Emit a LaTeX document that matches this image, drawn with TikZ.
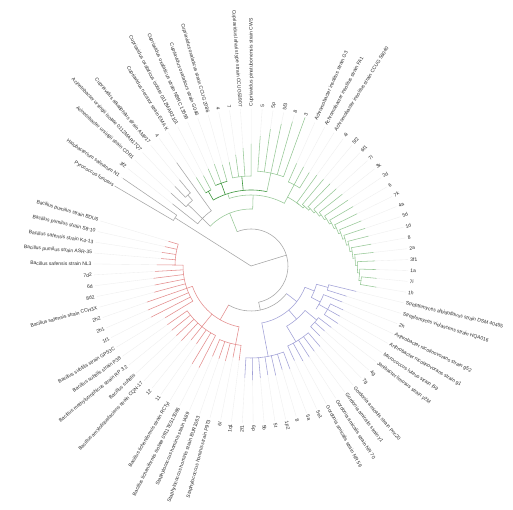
\documentclass[tikz,border=0pt]{standalone}
\usepackage{fontspec}
\setmainfont{Liberation Sans}
\definecolor{gncol}{RGB}{150,200,150}
\definecolor{dkgn}{RGB}{60,150,60}
\definecolor{rdcol}{RGB}{228,140,140}
\definecolor{blcol}{RGB}{160,160,215}
\definecolor{gycol}{RGB}{165,165,165}
\definecolor{leadcol}{RGB}{238,238,238}
\definecolor{txtcol}{RGB}{45,45,45}
\newcommand\rb[4]{\pgfmathsetmacro\tmpa{149.6-3.98*(#2)}\draw[#1] (\tmpa:#3pt) -- (\tmpa:#4pt);}
\newcommand\ar[4]{\pgfmathsetmacro\tmpa{149.6-3.98*(#2)}\pgfmathsetmacro\tmpb{149.6-3.98*(#3)}\draw[#1] (\tmpa:#4pt) arc[start angle=\tmpa, end angle=\tmpb, radius=#4pt];}
\newcommand\lf[5]{\pgfmathsetmacro\tmpa{149.6-3.98*(#2)}%
  \draw[lead] (\tmpa:#4pt) -- (\tmpa:157pt);
  \draw[#1] (\tmpa:#3pt) -- (\tmpa:#4pt);
  \pgfmathtruncatemacro\side{cos(\tmpa)>0}%
  \ifnum\side=1
    \node[lab,anchor=west,rotate=\tmpa] (L#2) at (\tmpa:159pt) {#5};
  \else
    \node[lab,anchor=east,rotate=\tmpa+180] (L#2) at (\tmpa:159pt) {#5};
  \fi}
\begin{document}
\begin{tikzpicture}[x=1pt,y=1pt,line cap=round,
  lab/.style={font=\fontsize{5}{6}\selectfont, text=txtcol, inner sep=0.3pt},
  lead/.style={draw=leadcol, line width=0.35pt},
  gy/.style={draw=gycol, line width=0.55pt},
  gn/.style={draw=gncol, line width=0.55pt},
  dg/.style={draw=dkgn, line width=0.6pt},
  rd/.style={draw=rdcol, line width=0.55pt},
  bl/.style={draw=blcol, line width=0.55pt}]
\useasboundingbox[fill=white] (0,0) rectangle (513,510);
\begin{scope}[shift={(251,244)}]
% outgroup
\rb{gy}{0.5}{0}{90} \ar{gy}{0}{1}{90}
\lf{gy}{0}{90}{158}{Pyrococcus furiosus}
\lf{gy}{1}{90}{155}{Halobacterium salinarum N1}
% N1
\rb{gy}{33.3}{0}{37} \ar{gy}{9.45}{57.2}{37}
% green
\rb{gn}{9.45}{37}{57} \ar{gn}{3.5}{15.4}{57}
\rb{gy}{3.5}{57}{68} \ar{gy}{2}{6}{68}
\lf{gy}{2}{68}{100}{3f2}
\rb{gy}{3.5}{68}{88} \ar{gy}{3}{4.5}{88}
\lf{gy}{3}{88}{108}{Acinetobacter ursingii strain CDR1}
\rb{gy}{4.5}{88}{95} \ar{gy}{4}{5}{95}
\lf{gy}{4}{95}{110}{Acinetobacter ursingii isolate 0112MAR17Q7}
\lf{gy}{5}{95}{112}{Cupriavidus alkaliphilus strain AMP17}
\lf{gy}{6}{68}{127}{4}
\rb{gn}{15.4}{57}{71} \ar{gn}{10.5}{22}{71}
\rb{gn}{10.5}{71}{76} \ar{dg}{7.5}{18}{76}
\rb{dg}{7.5}{76}{86} \ar{dg}{7}{8}{86}
\lf{gn}{7}{86}{104}{Cupriavidus necator strain EMA K}
\lf{gn}{8}{86}{102}{Cupriavidus oxalaticus isolate 0112MAR2101}
\rb{dg}{10}{76}{88} \ar{dg}{9}{11}{88}
\lf{gn}{9}{88}{106}{Cupriavidus oxalaticus strain NBRC 13593}
\lf{gn}{10}{88}{108}{Cupriavidus oxalaticus strain G046}
\lf{gn}{11}{88}{105}{Cupriavidus oxalaticus strain CCUG 2086}
\rb{dg}{13.5}{76}{90} \ar{gn}{12}{15}{90}
\lf{gn}{12}{90}{106}{4}
\lf{gn}{13}{90}{112}{7}
\lf{gn}{14}{90}{118}{Cupriavidus laharis type strain CCUG53907}
\lf{gn}{15}{90}{122}{Cupriavidus pinatubonensis strain CWS}
\rb{gn}{18}{76}{95} \ar{gn}{16}{20}{95}
\lf{gn}{16}{95}{130}{5}
\lf{gn}{17}{95}{138}{5p}
\lf{gn}{18}{95}{145}{5f3}
\lf{gn}{19}{95}{150}{8}
\lf{gn}{20}{95}{158}{3}
% right ladder
\rb{gn}{22}{71}{78} \ar{gn}{22}{24.5}{78}
\rb{gn}{22}{78}{92} \ar{gn}{21}{23}{92}
\lf{gn}{21}{92}{112}{Achromobacter insolitus strain G3}
\lf{gn}{22}{92}{112}{Achromobacter insolitus strain FA1}
\lf{gn}{23}{92}{110}{Achromobacter insolitus strain CCUG 56040}
\foreach \i [evaluate=\i as \r using 78+(\i-24)*2.2, evaluate=\i as \rn using 78+(\i-23)*2.2, evaluate=\i as \pn using \i+1.5] in {24,...,38}{
  \rb{gn}{\pn}{\r}{\rn} \ar{gn}{\i}{\pn}{\r}
}
\ar{gn}{39}{40}{111}
\lf{gn}{24}{78}{112}{4i}
\lf{gn}{25}{80}{113}{5f2}
\lf{gn}{26}{82}{114}{6f1}
\lf{gn}{27}{85}{115}{7l}
\lf{gn}{28}{87}{116}{3k}
\lf{gn}{29}{89}{117}{2d}
\lf{gn}{30}{91}{118}{6}
\lf{gn}{31}{93}{118}{7k}
\lf{gn}{32}{96}{119}{4a}
\lf{gn}{33}{98}{120}{5d}
\lf{gn}{34}{100}{121}{1d}
\lf{gn}{35}{102}{122}{8}
\lf{gn}{36}{104}{123}{2a}
\lf{gn}{37}{107}{124}{3f1}
\lf{gn}{38}{109}{125}{1a}
\lf{gn}{39}{111}{126}{7i}
\lf{gn}{40}{111}{127}{1h}
% red+blue
\rb{gy}{57.2}{37}{45} \ar{gy}{47.1}{67.7}{45}
% blue
\rb{bl}{47.1}{45}{58} \ar{bl}{43}{57.5}{58}
\rb{bl}{43}{58}{68} \ar{bl}{41.5}{44.5}{68}
\rb{bl}{41.5}{68}{80} \ar{bl}{41}{42}{80}
\lf{bl}{41}{80}{108}{Streptomyces albidoflavus strain DSM 40455}
\lf{bl}{42}{80}{100}{Streptomyces violascens strain HQA016}
\rb{bl}{44.5}{68}{78} \ar{bl}{43}{46}{78}
\lf{bl}{43}{78}{98}{2h}
\rb{bl}{45}{78}{88} \ar{bl}{44}{46}{88}
\lf{bl}{44}{88}{102}{Arthrobacter nicotinovorans strain g52}
\lf{bl}{45}{88}{102}{Arthrobacter nicotinovorans strain g1}
\lf{bl}{46}{88}{104}{Micrococcus luteus strain I59}
\rb{bl}{50}{58}{70} \ar{bl}{47.5}{52.5}{70}
\rb{bl}{47.5}{70}{85} \ar{bl}{47}{49}{85}
\lf{bl}{47}{85}{101}{Janibacter limosus strain y2M}
\lf{bl}{48}{85}{98}{4g}
\lf{bl}{49}{85}{98}{7g}
\rb{bl}{52.5}{70}{88} \ar{bl}{50}{54}{88}
\lf{bl}{50}{88}{106}{Gordonia amicalis strain Pnc20}
\lf{bl}{51}{88}{106}{Gordonia amicalis strain y1}
\lf{bl}{52}{88}{108}{Gordonia amicalis strain NR 70}
\lf{bl}{53}{88}{108}{Gordonia amicalis strain NR 59}
\lf{bl}{54}{88}{104}{5e1}
\rb{bl}{57.5}{58}{92} \ar{bl}{55}{61}{92}
\lf{bl}{55}{92}{110}{5a}
\lf{bl}{56}{92}{108}{8}
\lf{bl}{57}{92}{112}{1p2}
\lf{bl}{58}{92}{110}{5t}
\lf{bl}{59}{92}{112}{5b}
\lf{bl}{60}{92}{114}{6p}
\lf{bl}{61}{92}{112}{2f1}
% red
\rb{rd}{67.7}{45}{62} \ar{rd}{63}{78}{62}
\rb{rd}{63}{62}{80} \ar{rd}{62}{66}{80}
\lf{rd}{62}{80}{95}{1q1}
\lf{rd}{63}{80}{93}{6l}
\lf{rd}{64}{80}{98}{Staphylococcus hominis strain P9T3}
\lf{rd}{65}{80}{98}{Staphylococcus hominis strain BUR1063}
\lf{rd}{66}{80}{98}{Staphylococcus hominis strain IA89}
\rb{rd}{70}{62}{78} \ar{rd}{67}{74}{78}
\lf{rd}{67}{78}{114}{Bacillus licheniformis isolate 0911TES13086}
\lf{rd}{68}{78}{114}{Bacillus licheniformis strain RCTyl}
\lf{rd}{69}{78}{95}{11}
\lf{rd}{70}{78}{95}{12}
\lf{rd}{71}{78}{102}{Bacillus amyloliquefaciens strain CQN-17}
\lf{rd}{72}{78}{102}{Bacillus subtilis}
\lf{rd}{73}{78}{102}{Bacillus methylotrophicus strain RP 3.2}
\lf{rd}{74}{78}{102}{Bacillus subtilis strain P38}
\rb{rd}{78}{62}{68} \ar{rd}{75}{83}{68}
\lf{rd}{75}{68}{100}{Bacillus subtilis strain GP53C}
\lf{rd}{76}{68}{112}{1f1}
\lf{rd}{77}{68}{112}{2h1}
\lf{rd}{78}{68}{110}{2h2}
\lf{rd}{79}{68}{100}{Bacillus safensis strain CCH3X}
\lf{rd}{80}{68}{98}{8d2}
\lf{rd}{81}{68}{98}{6d}
\lf{rd}{82}{68}{96}{7d2}
\rb{rd}{83}{68}{76} \ar{rd}{83}{87}{76}
\lf{rd}{83}{76}{94}{Bacillus safensis strain NL3}
\lf{rd}{84}{76}{90}{Bacillus pumilus strain ASR-35}
\lf{rd}{85}{76}{90}{Bacillus safensis strain K4-13}
\lf{rd}{86}{76}{88}{Bacillus pumilus strain S8-10}
\lf{rd}{87}{76}{86}{Bacillus pumilus strain BDU6}
\end{scope}
\end{tikzpicture}
\end{document}
